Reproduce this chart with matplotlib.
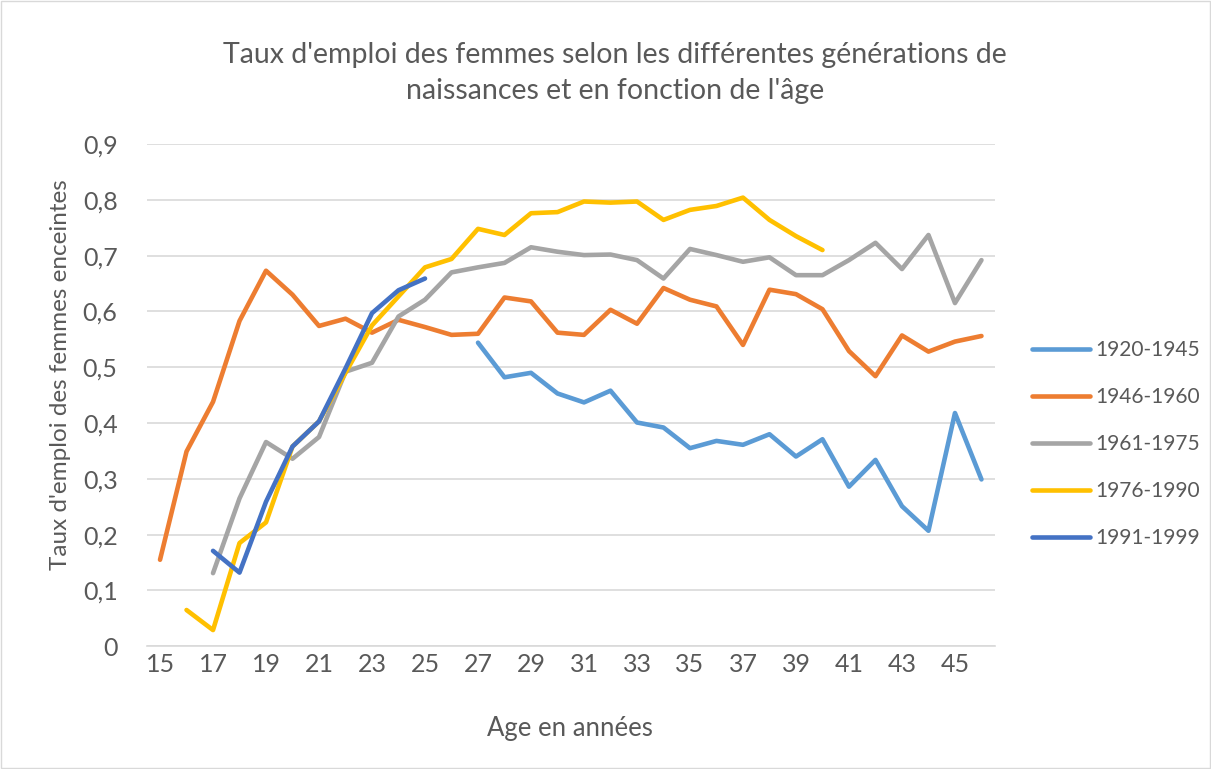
import matplotlib.pyplot as plt
import numpy as np

plt.rcParams['font.family'] = ['Lato', 'DejaVu Sans']

ages = list(range(15, 47))

# each series: first age, then the values
g1920_start = 27
g1920 = [0.544, 0.482, 0.490, 0.453, 0.437, 0.458, 0.401, 0.392, 0.355, 0.368,
         0.361, 0.380, 0.340, 0.371, 0.286, 0.334, 0.251, 0.207, 0.418, 0.299]

g1946_start = 15
g1946 = [0.155, 0.349, 0.438, 0.583, 0.673, 0.630, 0.574, 0.587, 0.562, 0.585,
         0.572, 0.558, 0.560, 0.625, 0.618, 0.562, 0.558, 0.603, 0.578, 0.642,
         0.621, 0.609, 0.540, 0.639, 0.631, 0.604, 0.529, 0.484, 0.557, 0.528,
         0.546, 0.556]

g1961_start = 17
g1961 = [0.131, 0.265, 0.366, 0.336, 0.375, 0.492, 0.508, 0.591, 0.621, 0.670,
         0.679, 0.687, 0.715, 0.707, 0.701, 0.702, 0.692, 0.659, 0.712, 0.701,
         0.689, 0.697, 0.665, 0.665, 0.692, 0.723, 0.676, 0.737, 0.615, 0.692]

g1976_start = 16
g1976 = [0.065, 0.029, 0.185, 0.222, 0.358, 0.403, 0.490, 0.575, 0.627, 0.679,
         0.694, 0.748, 0.737, 0.776, 0.778, 0.797, 0.795, 0.797, 0.764, 0.782,
         0.789, 0.804, 0.764, 0.735, 0.710]

g1991_start = 17
g1991 = [0.171, 0.132, 0.259, 0.358, 0.403, 0.498, 0.597, 0.638, 0.659]

series = [
    ('1920-1945', g1920_start, g1920, '#5B9BD5'),
    ('1946-1960', g1946_start, g1946, '#ED7D31'),
    ('1961-1975', g1961_start, g1961, '#A5A5A5'),
    ('1976-1990', g1976_start, g1976, '#FFC000'),
    ('1991-1999', g1991_start, g1991, '#4472C4'),
]

txt = '#595959'
fig = plt.figure(figsize=(12.11, 7.69), dpi=100)
ax = fig.add_axes([0.1212, 0.1596, 0.7002, 0.6531])

for name, start, vals, col in series:
    x = np.arange(start, start + len(vals))
    ax.plot(x, vals, color=col, lw=3.3, label=name, solid_capstyle='round',
            solid_joinstyle='round')

ax.set_xlim(14.5, 46.5)
ax.set_ylim(0, 0.9)
ax.set_xticks(ages[::2])
ax.set_xticklabels([str(a) for a in ages[::2]])
yt = np.arange(0, 0.91, 0.1)
ax.set_yticks(yt)
ax.set_yticklabels(['0'] + [('%.1f' % v).replace('.', ',') for v in yt[1:]])
ax.tick_params(length=0, labelsize=18, colors=txt)
ax.tick_params(axis='y', pad=21)
ax.tick_params(axis='x', pad=5)
ax.yaxis.grid(True, color='#D9D9D9', lw=1.2)
ax.set_axisbelow(True)
for s in ['top', 'right', 'left']:
    ax.spines[s].set_visible(False)
ax.spines['bottom'].set_color('#D9D9D9')
ax.spines['bottom'].set_linewidth(1.2)

fig.text(0.508, 0.905, "Taux d'emploi des femmes selon les différentes générations de\nnaissances et en fonction de l'âge",
         ha='center', va='center', fontsize=20.5, color=txt, linespacing=1.45)
fig.text(0.471, 0.053, 'Age en années', ha='center', va='center', fontsize=18.5, color=txt)
fig.text(0.05, 0.513, "Taux d'emploi des femmes enceintes", ha='center', va='center',
         rotation=90, fontsize=17.5, color=txt)

leg = fig.legend(loc='center left', bbox_to_anchor=(0.852, 0.4226), frameon=False,
                 fontsize=15, labelcolor=txt, handlelength=2.8, handletextpad=0.25,
                 labelspacing=1.3, borderpad=0, borderaxespad=0)

fig.patches.append(plt.Rectangle((0.001, 0.001), 0.998, 0.998, transform=fig.transFigure,
                                 fill=False, edgecolor='#D9D9D9', lw=1))

fig.savefig('out.png', dpi=100)
